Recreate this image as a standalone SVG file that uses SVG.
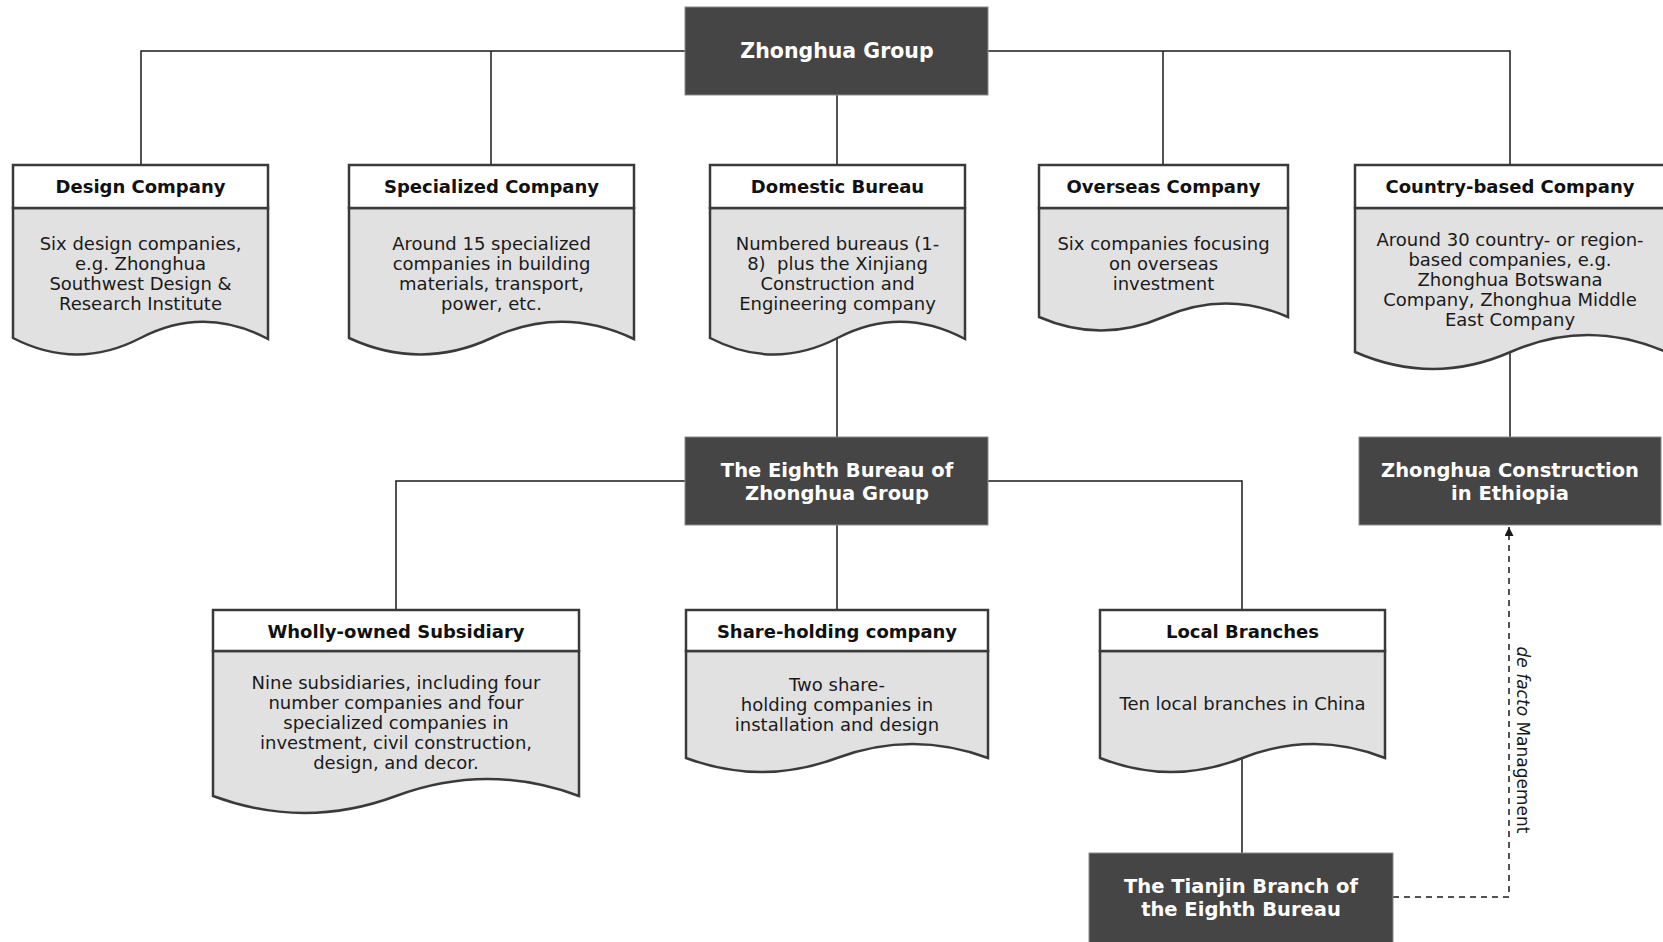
<svg xmlns="http://www.w3.org/2000/svg" width="1663" height="942" viewBox="0 0 1663 942">
<defs>
<style>
.conn{stroke:#1a1a1a;stroke-width:1.5;fill:none}
.dash{stroke:#1a1a1a;stroke-width:1.5;fill:none;stroke-dasharray:6,5}
.hdr{fill:#ffffff;stroke:#3a3a3a;stroke-width:2.5}
.body{fill:#e1e1e1;stroke:#3a3a3a;stroke-width:2.5}
.dark{fill:#454545;stroke:#8a8a8a;stroke-width:1}
.ht{font-family:"DejaVu Sans",Verdana,sans-serif;font-weight:bold;font-size:18px;fill:#111;text-anchor:middle}
.bt{font-family:"DejaVu Sans",Verdana,sans-serif;font-size:18px;fill:#1a1a1a;text-anchor:middle}
.dt{font-family:"DejaVu Sans",Verdana,sans-serif;font-weight:bold;font-size:19.5px;fill:#ffffff;text-anchor:middle}
.lt{font-family:"DejaVu Sans",Verdana,sans-serif;font-size:17px;fill:#1a1a1a;text-anchor:middle}
</style>
<marker id="arr" viewBox="0 0 10 10" refX="10" refY="5" markerWidth="9" markerHeight="9" markerUnits="userSpaceOnUse" orient="auto">
<path d="M0,0 L10,5 L0,10 Z" fill="#1a1a1a"/>
</marker>
</defs>
<rect width="1663" height="942" fill="#ffffff"/>
<g id="connectors">
<path class="conn" d="M141,165 V51 H1510 V165"/>
<path class="conn" d="M491,51 V165"/>
<path class="conn" d="M837,95 V165"/>
<path class="conn" d="M1163,51 V165"/>
<path class="conn" d="M837,338 V437"/>
<path class="conn" d="M1510,352 V437"/>
<path class="conn" d="M396,610 V481 H1242 V610"/>
<path class="conn" d="M837,525 V610"/>
<path class="conn" d="M1242,758 V853"/>
<path class="dash" d="M1393,897 H1509 V527" marker-end="url(#arr)"/>
<text class="lt" transform="translate(1517,740) rotate(90)"><tspan font-style="italic">de facto</tspan> Management</text>
</g>
<g id="zhonghua-group">
<rect class="dark" x="685" y="7" width="303" height="88"/>
<text class="dt" x="837" y="58" style="font-size:20.5px">Zhonghua Group</text>
</g>
<g id="design-company">
<path class="body" d="M13,208 H268 V339 Q204,305 140.5,338 T13,338 Z"/>
<rect class="hdr" x="13" y="165" width="255" height="43"/>
<text class="ht" x="140.5" y="193">Design Company</text>
<text class="bt" x="140.5" y="250">Six design companies,</text>
<text class="bt" x="140.5" y="270">e.g. Zhonghua</text>
<text class="bt" x="140.5" y="290">Southwest Design &amp;</text>
<text class="bt" x="140.5" y="310">Research Institute</text>
</g>
<g id="specialized-company">
<path class="body" d="M349,208 H634 V339 Q562.5,305 491.5,338 T349,338 Z"/>
<rect class="hdr" x="349" y="165" width="285" height="43"/>
<text class="ht" x="491.5" y="193">Specialized Company</text>
<text class="bt" x="491.5" y="250">Around 15 specialized</text>
<text class="bt" x="491.5" y="270">companies in building</text>
<text class="bt" x="491.5" y="290">materials, transport,</text>
<text class="bt" x="491.5" y="310">power, etc.</text>
</g>
<g id="domestic-bureau">
<path class="body" d="M710,208 H965 V339 Q901,305 837.5,338 T710,338 Z"/>
<rect class="hdr" x="710" y="165" width="255" height="43"/>
<text class="ht" x="837.5" y="193">Domestic Bureau</text>
<text class="bt" x="837.5" y="250">Numbered bureaus (1-</text>
<text class="bt" x="837.5" y="270" xml:space="preserve">8)  plus the Xinjiang</text>
<text class="bt" x="837.5" y="290">Construction and</text>
<text class="bt" x="837.5" y="310">Engineering company</text>
</g>
<g id="overseas-company">
<path class="body" d="M1039,208 H1288 V317 Q1226,290 1163.5,317 T1039,317 Z"/>
<rect class="hdr" x="1039" y="165" width="249" height="43"/>
<text class="ht" x="1163.5" y="193">Overseas Company</text>
<text class="bt" x="1163.5" y="250">Six companies focusing</text>
<text class="bt" x="1163.5" y="270">on overseas</text>
<text class="bt" x="1163.5" y="290">investment</text>
</g>
<g id="country-based-company">
<path class="body" d="M1355,208 H1666 V352 Q1588,318 1510.5,352 T1355,352 Z"/>
<rect class="hdr" x="1355" y="165" width="311" height="43"/>
<text class="ht" x="1510" y="193">Country-based Company</text>
<text class="bt" x="1510" y="246">Around 30 country- or region-</text>
<text class="bt" x="1510" y="266">based companies, e.g.</text>
<text class="bt" x="1510" y="286">Zhonghua Botswana</text>
<text class="bt" x="1510" y="306">Company, Zhonghua Middle</text>
<text class="bt" x="1510" y="326">East Company</text>
</g>
<g id="eighth-bureau">
<rect class="dark" x="685" y="437" width="303" height="88"/>
<text class="dt" x="837" y="477">The Eighth Bureau of</text>
<text class="dt" x="837" y="500">Zhonghua Group</text>
</g>
<g id="ethiopia">
<rect class="dark" x="1359" y="437" width="302" height="88"/>
<text class="dt" x="1510" y="477">Zhonghua Construction</text>
<text class="dt" x="1510" y="500">in Ethiopia</text>
</g>
<g id="wholly-owned-subsidiary">
<path class="body" d="M213,651 H579 V796 Q487.5,762 396,796 T213,796 Z"/>
<rect class="hdr" x="213" y="610" width="366" height="41"/>
<text class="ht" x="396" y="638">Wholly-owned Subsidiary</text>
<text class="bt" x="396" y="689">Nine subsidiaries, including four</text>
<text class="bt" x="396" y="709">number companies and four</text>
<text class="bt" x="396" y="729">specialized companies in</text>
<text class="bt" x="396" y="749">investment, civil construction,</text>
<text class="bt" x="396" y="769">design, and decor.</text>
</g>
<g id="share-holding-company">
<path class="body" d="M686,651 H988 V758 Q912.5,730 837,758 T686,758 Z"/>
<rect class="hdr" x="686" y="610" width="302" height="41"/>
<text class="ht" x="837" y="638">Share-holding company</text>
<text class="bt" x="837" y="691">Two share-</text>
<text class="bt" x="837" y="711">holding companies in</text>
<text class="bt" x="837" y="731">installation and design</text>
</g>
<g id="local-branches">
<path class="body" d="M1100,651 H1385 V758 Q1314,730 1242.5,758 T1100,758 Z"/>
<rect class="hdr" x="1100" y="610" width="285" height="41"/>
<text class="ht" x="1242.5" y="638">Local Branches</text>
<text class="bt" x="1242.5" y="710">Ten local branches in China</text>
</g>
<g id="tianjin-branch">
<rect class="dark" x="1089" y="853" width="304" height="95"/>
<text class="dt" x="1241" y="893">The Tianjin Branch of</text>
<text class="dt" x="1241" y="916">the Eighth Bureau</text>
</g>
</svg>
